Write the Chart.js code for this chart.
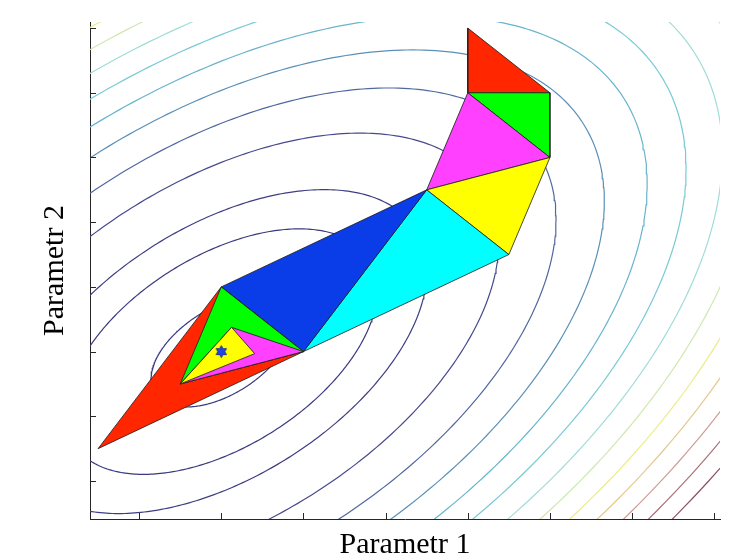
<!DOCTYPE html>
<html>
<head>
<meta charset="utf-8">
<script src="https://cdn.jsdelivr.net/npm/chart.js@4.4.1/dist/chart.umd.min.js"></script>
<style>
  html, body { margin: 0; padding: 0; background: #ffffff; }
  #wrap { width: 734px; height: 560px; position: relative; }
</style>
</head>
<body>
<div id="wrap"><canvas id="chart" width="734" height="560"></canvas></div>
<script>
// ---------------- data ----------------
// axis limits (data units) and tick values (tick labels are not shown)
const xRange = [0.402, 8.07];
const yRange = [0.413, 8.094];
const xTicks = [1, 2, 3, 4, 5, 6, 7, 8];
const yTicks = [1, 2, 3, 4, 5, 6, 7, 8];

// contour plot of a quadratic f = a*dx^2 + b*dx*dy + c*dy^2 around the minimum
const contourCenter = [2.0, 3.0];
const quadCoef = [1, -1, 1];
const contourLevels = [0.55, 2.7, 4.7, 8.55, 12.45, 16.3, 20.15, 24.0, 27.9, 31.8, 35.65, 39.5, 43.35, 47.2, 51.05];

// simplex (Nelder-Mead) triangles, in drawing order
const simplexX = [
  [5, 5, 6],
  [5, 6, 6],
  [5, 6, 4.5],
  [6, 4.5, 5.5],
  [4.5, 5.5, 3],
  [4.5, 3, 2],
  [2, 3, 0.5],
  [2, 3, 1.5],
  [3, 1.5, 2.125],
  [1.5, 2.125, 2.40625]
];
const simplexY = [
  [8, 7, 7],
  [7, 7, 6],
  [7, 6, 5.5],
  [6, 5.5, 4.5],
  [5.5, 4.5, 3],
  [5.5, 3, 4],
  [4, 3, 1.5],
  [4, 3, 2.5],
  [3, 2.5, 3.375],
  [2.5, 3.375, 2.96875]
];

// final point (star marker)
const starX = [2];
const starY = [3];

// ---------------- styles ----------------
const simplexColors = ['#ff2600', '#00ff00', '#ff40ff', '#ffff00', '#00ffff', '#0a3ce8',
                       '#ff2600', '#00ff00', '#ff40ff', '#ffff00'];
const contourColors = ['#3a3a80', '#3a3a80', '#3e3e84', '#474a8c', '#5068a0', '#5a90b8',
                       '#68b4cc', '#78cad6', '#a0dcd8', '#cfe8b0', '#ecec88', '#e4c890',
                       '#cc9c94', '#a87078', '#8a5068'];
const axisColor = '#262626';

// ---------------- build datasets ----------------
function ellipsePoints(level) {
  const [a, b, c] = quadCoef;
  const th = 0.5 * Math.atan2(b, a - c);
  const cs = Math.cos(th), sn = Math.sin(th);
  const l1 = a * cs * cs + b * sn * cs + c * sn * sn;
  const l2 = a * sn * sn - b * sn * cs + c * cs * cs;
  const r1 = Math.sqrt(level / l1), r2 = Math.sqrt(level / l2);
  const pts = [];
  const n = 360;
  for (let i = 0; i <= n; i++) {
    const t = 2 * Math.PI * i / n;
    const u = r1 * Math.cos(t), v = r2 * Math.sin(t);
    pts.push({ x: contourCenter[0] + u * cs - v * sn, y: contourCenter[1] + u * sn + v * cs });
  }
  return pts;
}

const datasets = [];
contourLevels.forEach((lv, i) => {
  datasets.push({
    type: 'line',
    data: ellipsePoints(lv),
    borderColor: contourColors[i],
    borderWidth: 1.2,
    pointRadius: 0,
    fill: false,
    tension: 0,
    order: 100
  });
});
simplexX.forEach((xs, k) => {
  const pts = xs.map((x, j) => ({ x: x, y: simplexY[k][j] }));
  pts.push(pts[0]);
  datasets.push({
    type: 'line',
    data: pts,
    borderColor: '#1a1a1a',
    borderWidth: 0.8,
    backgroundColor: simplexColors[k],
    pointRadius: 0,
    fill: 'shape',
    tension: 0,
    order: 50 - k
  });
});

function hexagram(r, fillC, strokeC) {
  const s = Math.ceil(2 * r + 3);
  const cv = document.createElement('canvas');
  cv.width = s; cv.height = s;
  const g = cv.getContext('2d');
  const cx = s / 2, cy = s / 2;
  g.beginPath();
  for (let i = 0; i < 12; i++) {
    const ang = -Math.PI / 2 + i * Math.PI / 6;
    const rr = (i % 2 === 0) ? r : r / Math.sqrt(3);
    g.lineTo(cx + rr * Math.cos(ang), cy + rr * Math.sin(ang));
  }
  g.closePath();
  g.fillStyle = fillC; g.fill();
  g.strokeStyle = strokeC; g.lineWidth = 0.8; g.stroke();
  return cv;
}

datasets.push({
  type: 'scatter',
  data: starX.map((x, i) => ({ x: x, y: starY[i] })),
  pointStyle: hexagram(6, '#1f45e6', '#10208a'),
  pointRadius: 6,
  order: 0
});

// inward tick marks drawn from the scales
const inwardTicks = {
  id: 'inwardTicks',
  afterDatasetsDraw(chart) {
    const ctx = chart.ctx;
    const xs = chart.scales.x, ys = chart.scales.y;
    const area = chart.chartArea;
    ctx.save();
    ctx.strokeStyle = axisColor;
    ctx.lineWidth = 1;
    ctx.beginPath();
    xs.ticks.forEach(t => {
      const px = Math.round(xs.getPixelForValue(t.value)) + 0.5;
      ctx.moveTo(px, area.bottom);
      ctx.lineTo(px, area.bottom - 6);
    });
    ys.ticks.forEach(t => {
      const py = Math.round(ys.getPixelForValue(t.value)) + 0.5;
      ctx.moveTo(area.left, py);
      ctx.lineTo(area.left + 6, py);
    });
    ctx.stroke();
    ctx.restore();
  }
};

new Chart(document.getElementById('chart'), {
  type: 'line',
  data: { datasets: datasets },
  options: {
    responsive: false,
    animation: false,
    events: [],
    layout: { padding: { top: 22, right: 14, left: 0, bottom: 0 } },
    plugins: { legend: { display: false }, tooltip: { enabled: false } },
    scales: {
      x: {
        type: 'linear',
        min: xRange[0], max: xRange[1],
        afterBuildTicks: s => { s.ticks = xTicks.map(v => ({ value: v })); },
        ticks: { display: false },
        grid: { display: false, drawTicks: false },
        border: { display: true, color: axisColor, width: 1 },
        title: {
          display: true, text: 'Parametr 1', color: '#000',
          font: { family: 'Liberation Serif', size: 30, lineHeight: 1.0 },
          padding: { top: 11, bottom: 0 }
        }
      },
      y: {
        type: 'linear',
        min: yRange[0], max: yRange[1],
        afterBuildTicks: s => { s.ticks = yTicks.map(v => ({ value: v })); },
        ticks: { display: false },
        grid: { display: false, drawTicks: false },
        border: { display: true, color: axisColor, width: 1 },
        title: {
          display: true, text: 'Parametr 2', color: '#000',
          font: { family: 'Liberation Serif', size: 30, lineHeight: 1.0 },
          padding: { top: 40, bottom: 20 }
        }
      }
    }
  },
  plugins: [inwardTicks]
});
</script>
</body>
</html>
